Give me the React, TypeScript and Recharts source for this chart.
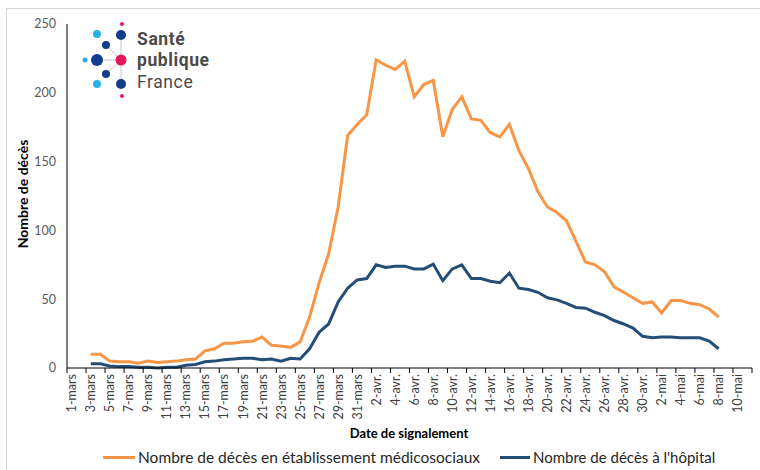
import React from "react";
import { LineChart, Line, XAxis, YAxis } from "recharts";

// one label per day, 1 March -> 11 May
const days = [
  "1-mars", "2-mars", "3-mars", "4-mars", "5-mars", "6-mars", "7-mars", "8-mars", "9-mars", "10-mars",
  "11-mars", "12-mars", "13-mars", "14-mars", "15-mars", "16-mars", "17-mars", "18-mars", "19-mars", "20-mars",
  "21-mars", "22-mars", "23-mars", "24-mars", "25-mars", "26-mars", "27-mars", "28-mars", "29-mars", "30-mars",
  "31-mars", "1-avr.", "2-avr.", "3-avr.", "4-avr.", "5-avr.", "6-avr.", "7-avr.", "8-avr.", "9-avr.",
  "10-avr.", "11-avr.", "12-avr.", "13-avr.", "14-avr.", "15-avr.", "16-avr.", "17-avr.", "18-avr.", "19-avr.",
  "20-avr.", "21-avr.", "22-avr.", "23-avr.", "24-avr.", "25-avr.", "26-avr.", "27-avr.", "28-avr.", "29-avr.",
  "30-avr.", "1-mai", "2-mai", "3-mai", "4-mai", "5-mai", "6-mai", "7-mai", "8-mai", "9-mai",
  "10-mai", "11-mai",
];

// deaths reported in social/medico-social facilities (EMS), 3-mars .. 8-mai
const ems = [
  10, 10, 5, 4.5, 4.5, 3.5, 5, 4, 4.5, 5, 6, 6.5, 12.5, 14, 18, 18, 19, 19.5, 22.5, 16.5, 16, 15, 19,
  37, 62, 83, 117, 169, 177,
  184, 224, 220, 217, 223, 197, 206, 209, 168, 188, 197, 181, 180, 171, 168, 177, 158, 145, 128, 117,
  113, 107, 92, 77, 75, 70, 59, 55, 51, 47,
  48, 40, 49, 49, 47, 46, 43, 37,
];

// deaths at hospital, 3-mars .. 8-mai
const hop = [
  3, 3, 1.5, 1, 1, 0.5, 0.5, 0, 0.5, 0.5, 2, 2.5, 4.5, 5, 6, 6.5, 7, 7, 6, 6.5, 5, 7, 6.5,
  14, 26, 32, 48, 58, 64,
  65, 75, 73, 74, 74, 72, 72, 75.5, 63.5, 72, 75, 65, 65, 63, 62, 69, 58, 57, 55, 51,
  49.5, 47, 44, 43.5, 40.5, 38, 34.5, 32, 29, 23,
  22, 22.5, 22.5, 22, 22, 22, 19.5, 14,
];

const firstDay = 2; // 3-mars
const yTicks = [0, 50, 100, 150, 200, 250];
const xTicks = days.map((_, i) => i).filter((i) => i % 2 === 0).concat([72]);

const ORANGE = "#F79646";
const BLUE = "#254E77";
const FONT = "Lato, 'Open Sans', sans-serif";

const data = days.map((label, i) => {
  const k = i - firstDay;
  return {
    x: i + 0.5,
    label,
    ems: k >= 0 && k < ems.length ? ems[k] : null,
    hop: k >= 0 && k < hop.length ? hop[k] : null,
  };
});

const BAND = 685 / 72;

const DayTick = (props: any) => {
  const { x, y, payload } = props;
  const label = days[payload.value];
  if (!label) return null;
  const cx = x + BAND / 2;
  const cy = y + 1;
  return (
    <text
      x={cx}
      y={cy}
      transform={`rotate(-90, ${cx}, ${cy})`}
      textAnchor="end"
      dominantBaseline="central"
      fontSize={12.5}
      fill="#404040"
      fontFamily={FONT}
    >
      {label}
    </text>
  );
};

const Logo = () => (
  <svg width={240} height={110} style={{ position: "absolute", left: 0, top: 0 }}>
    {[[106, 45], [97, 60], [106, 74], [121, 35], [121, 84]].map(([x, y], i) => (
      <line key={i} x1={121} y1={60} x2={x} y2={y} stroke="#c8c8c8" strokeWidth={1} />
    ))}
    <circle cx={122} cy={24} r={2} fill="#e5185d" />
    <circle cx={97} cy={34} r={4} fill="#2ab0e8" />
    <circle cx={121} cy={35} r={5} fill="#143c8c" />
    <circle cx={106} cy={45} r={4} fill="#143c8c" />
    <circle cx={85} cy={60} r={2.5} fill="#2ab0e8" />
    <circle cx={97} cy={60} r={6} fill="#143c8c" />
    <circle cx={121} cy={60} r={5.5} fill="#e5185d" />
    <circle cx={106} cy={74} r={4} fill="#143c8c" />
    <circle cx={97} cy={84} r={4} fill="#2ab0e8" />
    <circle cx={121} cy={84} r={5} fill="#143c8c" />
    <circle cx={122} cy={96} r={2} fill="#e5185d" />
    <text fontFamily="Roboto, sans-serif" fontSize={17.5} letterSpacing={0.6} fill="#4a4a4a">
      <tspan x={137} y={45} fontWeight={700}>Santé</tspan>
      <tspan x={137} y={66} fontWeight={700}>publique</tspan>
      <tspan x={137} y={88} fontWeight={400}>France</tspan>
    </text>
  </svg>
);

export default function App() {
  return (
    <div style={{ position: "absolute", left: 0, top: 0, width: 760, height: 470, background: "#fff", fontFamily: FONT }}>
      <div style={{ position: "absolute", left: 6, top: 8, width: 754, height: 462, borderTop: "1px solid #d9d9d9", borderLeft: "1px solid #d9d9d9" }} />
      <LineChart
        width={760}
        height={470}
        data={data}
        margin={{ top: 24, right: 8, bottom: 42, left: 7 }}
        style={{ position: "absolute", left: 0, top: 0 }}
      >
        <XAxis
          dataKey="x"
          type="number"
          domain={[0, 72]}
          ticks={xTicks}
          interval={0}
          tick={<DayTick />}
          tickSize={5}
          tickMargin={0}
          stroke="#000"
          height={60}
          allowDecimals={false}
        />
        <YAxis
          domain={[0, 250]}
          ticks={yTicks}
          tickLine={false}
          tickSize={9}
          tickMargin={2}
          width={60}
          stroke="#000"
          tick={{ fill: "#595959", fontSize: 12.5, fontFamily: FONT }}
        />
        <Line type="linear" dataKey="ems" stroke={ORANGE} strokeWidth={3} dot={false} isAnimationActive={false} />
        <Line type="linear" dataKey="hop" stroke={BLUE} strokeWidth={3} dot={false} isAnimationActive={false} />
      </LineChart>
      <Logo />
      <div
        style={{
          position: "absolute", left: 22, top: 194, transform: "translate(-50%, -50%) rotate(-90deg)",
          fontWeight: 700, fontSize: 14, whiteSpace: "nowrap", color: "#000",
        }}
      >
        Nombre de décès
      </div>
      <div
        style={{
          position: "absolute", left: 409, top: 433, transform: "translate(-50%, -50%)",
          fontWeight: 700, fontSize: 13, whiteSpace: "nowrap", color: "#000",
        }}
      >
        Date de signalement
      </div>
      <div style={{ position: "absolute", left: 103, top: 457, transform: "translateY(-50%)", display: "flex", alignItems: "center", fontSize: 15.5, color: "#262626", whiteSpace: "nowrap" }}>
        <span style={{ width: 32, height: 3, background: ORANGE, marginRight: 3, display: "inline-block" }} />
        Nombre de décès en établissement médicosociaux
      </div>
      <div style={{ position: "absolute", left: 500, top: 457, transform: "translateY(-50%)", display: "flex", alignItems: "center", fontSize: 15, color: "#262626", whiteSpace: "nowrap" }}>
        <span style={{ width: 30, height: 3, background: BLUE, marginRight: 3, display: "inline-block" }} />
        Nombre de décès à l'hôpital
      </div>
    </div>
  );
}
